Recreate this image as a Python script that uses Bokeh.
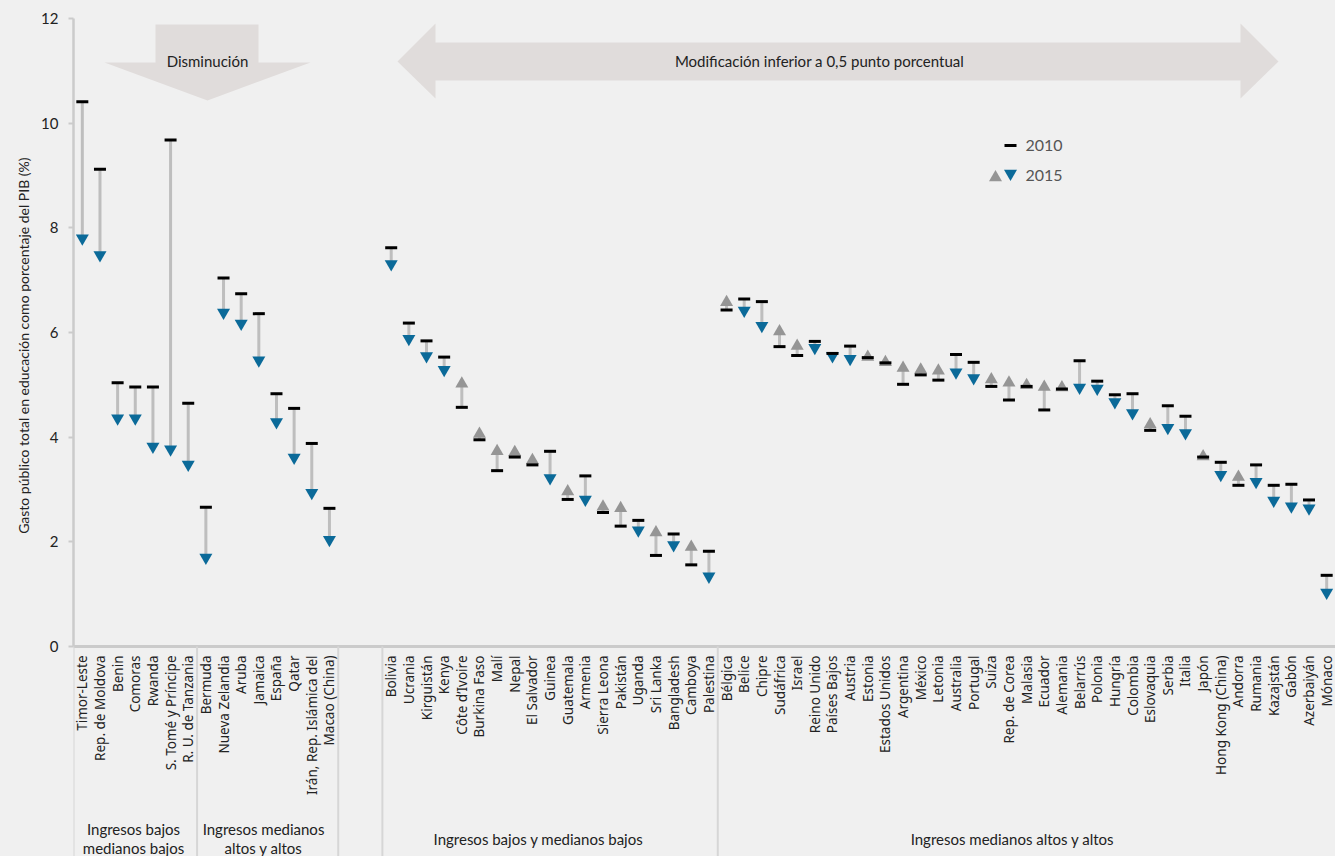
from math import pi
from bokeh.plotting import figure
from bokeh.models import Range1d, FixedTicker, GlobalInlineStyleSheet, Title
from bokeh.core.properties import value
from bokeh.embed import file_html
from bokeh.resources import INLINE

# ---------------- data ----------------
g1_name = "Ingresos bajos\nmedianos bajos"
g1_countries = ["Timor-Leste", "Rep. de Moldova", "Benin", "Comoras", "Rwanda",
                "S. Tomé y Príncipe", "R. U. de Tanzania"]
g1_2010 = [10.41, 9.12, 5.04, 4.96, 4.96, 9.68, 4.65]
g1_2015 = [7.80, 7.48, 4.36, 4.36, 3.82, 3.77, 3.48]

g2_name = "Ingresos medianos\naltos y altos"
g2_countries = ["Bermuda", "Nueva Zelandia", "Aruba", "Jamaica", "España", "Qatar",
                "Irán, Rep. Islámica del", "Macao (China)"]
g2_2010 = [2.66, 7.04, 6.74, 6.36, 4.83, 4.55, 3.88, 2.64]
g2_2015 = [1.70, 6.38, 6.17, 5.47, 4.29, 3.61, 2.94, 2.04]

g3_name = "Ingresos bajos y medianos bajos"
g3_countries = ["Bolivia", "Ucrania", "Kirguistán", "Kenya", "Côte d’Ivoire", "Burkina Faso",
                "Malí", "Nepal", "El Salvador", "Guinea", "Guatemala", "Armenia",
                "Sierra Leona", "Pakistán", "Uganda", "Sri Lanka", "Bangladesh",
                "Camboya", "Palestina"]
g3_2010 = [7.62, 6.18, 5.84, 5.53, 4.57, 3.95, 3.36, 3.62, 3.47, 3.73, 2.81, 3.26,
           2.56, 2.30, 2.41, 1.74, 2.15, 1.56, 1.82]
g3_2015 = [7.31, 5.88, 5.55, 5.29, 5.02, 4.06, 3.73, 3.71, 3.56, 3.22, 2.96, 2.81,
           2.67, 2.64, 2.22, 2.18, 1.94, 1.90, 1.34]

g4_name = "Ingresos medianos altos y altos"
g4_countries = ["Bélgica", "Belice", "Chipre", "Sudáfrica", "Israel", "Reino Unido",
                "Países Bajos", "Austria", "Estonia", "Estados Unidos", "Argentina",
                "México", "Letonia", "Australia", "Portugal", "Suiza", "Rep. de Corea",
                "Malasia", "Ecuador", "Alemania", "Belarrús", "Polonia", "Hungría",
                "Colombia", "Eslovaquia", "Serbia", "Italia", "Japón", "Hong Kong (China)",
                "Andorra", "Rumania", "Kazajstán", "Gabón", "Azerbaiyán", "Mónaco"]
g4_2010 = [6.43, 6.64, 6.59, 5.73, 5.56, 5.83, 5.60, 5.74, 5.52, 5.42, 5.01, 5.19,
           5.09, 5.58, 5.43, 4.97, 4.71, 4.97, 4.52, 4.92, 5.46, 5.07, 4.81, 4.83,
           4.13, 4.60, 4.40, 3.62, 3.52, 3.08, 3.47, 3.08, 3.10, 2.80, 1.36]
g4_2015 = [6.58, 6.42, 6.13, 6.02, 5.74, 5.71, 5.55, 5.50, 5.53, 5.43, 5.32, 5.29,
           5.27, 5.24, 5.13, 5.10, 5.04, 4.99, 4.96, 4.95, 4.95, 4.93, 4.67, 4.46,
           4.24, 4.18, 4.08, 3.63, 3.28, 3.24, 3.15, 2.79, 2.68, 2.64, 1.03]

y_ticks = [0, 2, 4, 6, 8, 10, 12]
y_title = "Gasto público total en educación como porcentaje del PIB (%)"
legend_labels = ["2010", "2015"]
note_decrease = "Disminución"
note_small = "Modificación inferior a 0,5 punto porcentual"

# ---------------- styling / layout ----------------
BG = "#F0F0F0"
BLUE = "#0B6A99"
GREY_TRI = "#959595"
CONNECT = "#BEBEBE"
AXIS_GREY = "#CBCBCB"
ARROW_FILL = "#E0DCDB"
TXT = "#222222"
NARROW = "Lato"

W, H = 1335, 856
LEFT = 73            # frame left inside the figure
OFF = 0              # page offset of the figure
X_START, X_END = -0.5, 71.0
GAP = 2.5            # empty slots between group 2 and group 3

SLOT_PX = (W - LEFT) / (X_END - X_START)
UNIT_PX = (646 - 18) / 12.0
Y_END = 12 + (18 - OFF) / UNIT_PX
Y_START = -((OFF + H) - 646) / UNIT_PX


def dx(px):   # page pixel -> data x
    return X_START + (px - (OFF + LEFT)) / SLOT_PX


def dy(py):   # page pixel -> data y
    return 12 - (py - 18) / UNIT_PX


groups = [(g1_name, g1_countries, g1_2010, g1_2015),
          (g2_name, g2_countries, g2_2010, g2_2015),
          (g3_name, g3_countries, g3_2010, g3_2015),
          (g4_name, g4_countries, g4_2010, g4_2015)]

xs, names, v10, v15, bounds = [], [], [], [], [X_START]
start = 0.0
for gi, (gname, cs, a, b) in enumerate(groups):
    for i, c in enumerate(cs):
        xs.append(start + i)
        names.append(c)
        v10.append(a[i])
        v15.append(b[i])
    start += len(cs)
    bounds.append(start - 0.5)
    if gi == 1:
        start += GAP
        bounds.append(start - 0.5)
bounds = bounds[:-1]

p = figure(width=W, height=H, output_backend="svg", toolbar_location=None,
           x_range=Range1d(X_START, X_END), y_range=Range1d(Y_START, Y_END),
           x_axis_location=None, min_border_left=LEFT, min_border_right=0,
           min_border_top=0, min_border_bottom=0)
p.background_fill_color = BG
p.border_fill_color = BG
p.outline_line_color = None
p.xgrid.visible = False
p.ygrid.visible = False
p.stylesheets = [GlobalInlineStyleSheet(css="body { background: %s; }" % BG)]

yax = p.yaxis[0]
yax.ticker = FixedTicker(ticks=y_ticks)
yax.bounds = (0, 12)
yax.axis_line_color = AXIS_GREY
yax.axis_line_width = 2.5
yax.major_tick_line_color = AXIS_GREY
yax.major_tick_line_width = 2
yax.major_tick_out = 5
yax.major_tick_in = 0
yax.minor_tick_line_color = None
yax.major_label_standoff = 10
yax.major_label_text_font = NARROW
yax.major_label_text_font_size = "15px"
yax.major_label_text_color = TXT

# y axis title placed on the 0-12 span (like the reference), not the full frame
p.add_layout(Title(text=y_title, align="right", offset=157, vertical_align="top",
                   text_font=NARROW, text_font_size="14px", text_font_style="normal",
                   text_color=TXT, standoff=10), "left")

# annotation arrows
down_arrow = [(155, 24), (258, 24), (258, 62), (310, 62), (207, 100), (104, 62), (155, 62)]
p.patch([dx(a) for a, _ in down_arrow], [dy(b) for _, b in down_arrow],
        fill_color=ARROW_FILL, line_color=None)
dbl_arrow = [(397, 61), (435, 23), (435, 42), (1240, 42), (1240, 23), (1278, 61),
             (1240, 98), (1240, 80), (435, 80), (435, 98)]
p.patch([dx(a) for a, _ in dbl_arrow], [dy(b) for _, b in dbl_arrow],
        fill_color=ARROW_FILL, line_color=None)
p.text(x=[dx(207), dx(819)], y=[dy(60), dy(60)], text=[note_decrease, note_small],
       text_align="center", text_baseline="middle", text_font=value(NARROW),
       text_font_size=value("15px"), text_color=TXT)

# x axis line and group separators
p.segment(x0=[X_START], y0=[0], x1=[X_END], y1=[0], line_color=AXIS_GREY, line_width=3)
p.segment(x0=bounds, y0=[0] * len(bounds), x1=bounds, y1=[Y_START] * len(bounds),
          line_color="#D6D6D6", line_width=2)

# connectors, triangles, dashes
p.segment(x0=xs, y0=v10, x1=xs, y1=v15, line_color=CONNECT, line_width=3)
up_x = [x for x, a, b in zip(xs, v10, v15) if b >= a]
up_y = [b for x, a, b in zip(xs, v10, v15) if b >= a]
dn_x = [x for x, a, b in zip(xs, v10, v15) if b < a]
dn_y = [b for x, a, b in zip(xs, v10, v15) if b < a]
p.scatter(up_x, up_y, marker="triangle", size=13, fill_color=GREY_TRI, line_color=None)
p.scatter(dn_x, dn_y, marker="inverted_triangle", size=13, fill_color=BLUE, line_color=None)
p.scatter(xs, v10, marker="dash", size=12, line_color="black", line_width=3)

# category labels
p.text(x=xs, y=[dy(655)] * len(xs), text=names, angle=pi / 2, text_align="right",
       text_baseline="middle", text_font=value("Noto Sans"), text_font_size=value("13.5px"),
       text_color=TXT)

# group labels
glabel_px = [133, 263, 538, 1012]
p.text(x=[dx(v) for v in glabel_px], y=[dy(838)] * 4, text=[g[0] for g in groups],
       text_align="center", text_baseline="middle", text_font=value(NARROW),
       text_font_size=value("15px"), text_color=TXT, text_line_height=1.05)

# legend
p.scatter([dx(1010)], [dy(145)], marker="dash", size=12, line_color="black", line_width=3)
p.scatter([dx(995)], [dy(177)], marker="triangle", size=13, fill_color=GREY_TRI, line_color=None)
p.scatter([dx(1010)], [dy(173)], marker="inverted_triangle", size=13, fill_color=BLUE, line_color=None)
p.text(x=[dx(1025)] * 2, y=[dy(145), dy(175)], text=legend_labels, text_align="left",
       text_baseline="middle", text_font=value(NARROW), text_font_size=value("16px"),
       text_color="#555555")

open("out.html", "w").write(file_html(p, INLINE))
